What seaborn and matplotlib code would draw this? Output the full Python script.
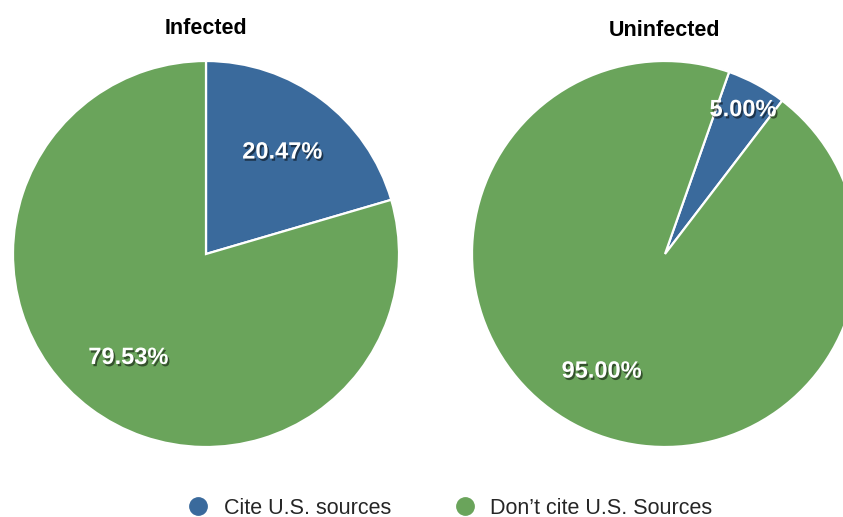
import numpy as np
import matplotlib
matplotlib.use("Agg")
import matplotlib.pyplot as plt
import matplotlib.patheffects as pe
from matplotlib.lines import Line2D
import seaborn as sns

# Share of articles citing U.S. sources, by group
groups = ["Infected", "Uninfected"]
categories = ["Cite U.S. sources", "Don\u2019t cite U.S. Sources"]
infected_pct = [20.47, 79.53]
uninfected_pct = [5.00, 95.00]

sns.set_theme(style="white")
plt.rcParams["font.family"] = ["Liberation Sans", "DejaVu Sans"]
colors = sns.color_palette(["#3a6a9c", "#6aa45b"])

W, H = 843, 517
fig = plt.figure(figsize=(W / 100, H / 100), dpi=100)
fig.patch.set_facecolor("white")

# pie layout in pixels: (center x, center y, radius, start angle, label distances)
layouts = [
    (206, 254, 193, 90.0, [0.66, 0.67]),
    (665, 254, 193, 70.6, [0.85, 0.69]),
]
title_y = [29, 31]

shadow = [pe.SimplePatchShadow(offset=(1.2, -1.6), shadow_rgbFace="black", alpha=0.5),
          pe.Normal()]

for g, vals, (cx, cy, r, start, dists), ty in zip(groups, [infected_pct, uninfected_pct],
                                                 layouts, title_y):
    ax = fig.add_axes([(cx - r) / W, (H - cy - r) / H, 2 * r / W, 2 * r / H])
    wedges, _ = ax.pie(vals, colors=colors, startangle=start, counterclock=False,
                       radius=1.0,
                       wedgeprops=dict(edgecolor="white", linewidth=1.6))
    for w, v, d in zip(wedges, vals, dists):
        mid = np.deg2rad((w.theta1 + w.theta2) / 2)
        t = ax.text(d * np.cos(mid), d * np.sin(mid), f"{v:.2f}%",
                    ha="center", va="center", color="white",
                    fontsize=17, fontweight="bold")
        t.set_path_effects(shadow)
    ax.set_xlim(-1, 1)
    ax.set_ylim(-1, 1)
    ax.set_aspect("auto")
    ax.axis("off")
    fig.text(cx / W, 1 - ty / H, g, ha="center", va="center",
             fontsize=15.5, fontweight="bold", color="black")

handles = [Line2D([], [], marker="o", linestyle="none", markersize=12.5,
                  markerfacecolor=c, markeredgecolor=c) for c in colors]
fig.legend(handles, categories, loc="center", bbox_to_anchor=(450 / W, 1 - 508 / H),
           ncol=2, frameon=False, fontsize=15.5, handletextpad=0.7,
           columnspacing=2.9, handlelength=1.0)

fig.savefig("out.png", dpi=100, facecolor="white")
